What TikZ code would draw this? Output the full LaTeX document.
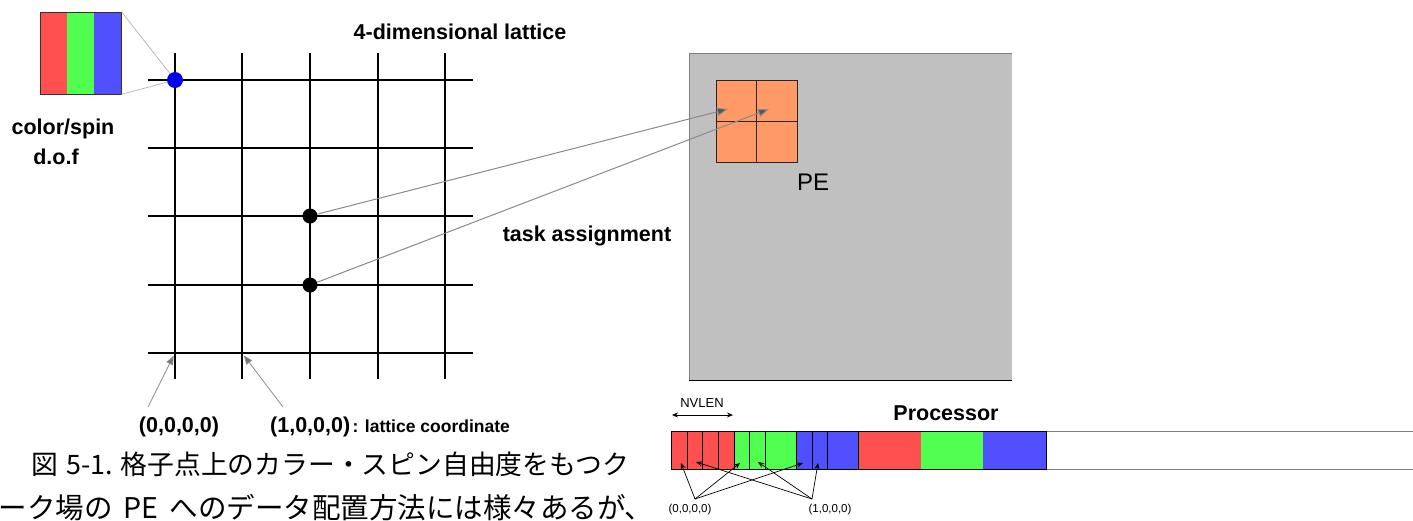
\documentclass[tikz,border=0pt]{standalone}
\usepackage{fontspec}
\setmainfont{Liberation Sans}
\newfontfamily\jpfont{Noto Sans CJK JP}
\usetikzlibrary{arrows.meta,calc}

\definecolor{cred}{HTML}{FF5050}
\definecolor{cgreen}{HTML}{50FF50}
\definecolor{cblue}{HTML}{5050FF}
\definecolor{dotblue}{HTML}{0000F0}
\definecolor{peorange}{HTML}{FF9966}
\definecolor{pegray}{HTML}{C0C0C0}
\definecolor{linkgray}{HTML}{8A8A8A}
\definecolor{headgray}{HTML}{555555}

\tikzset{
  gridline/.style={line width=2.6pt, black},
  latticedot/.style={circle, fill=black, inner sep=0pt, minimum size=15pt},
  boldlbl/.style={font=\fontsize{21.5}{24}\selectfont\bfseries, inner sep=0pt},
  smalllbl/.style={font=\fontsize{17.5}{19}\selectfont\bfseries, inner sep=0pt},
  tinylbl/.style={font=\fontsize{11.5}{13}\selectfont, inner sep=0pt},
  zoomline/.style={draw=black!30, line width=0.7pt},
  coordarrow/.style={draw=black!45, line width=0.8pt,
    -{Triangle[length=9pt,width=7pt,fill=black!55]}},
  taskarrow/.style={draw=linkgray, line width=1pt,
    -{Triangle[length=11pt,width=8pt,fill=headgray]}},
  pecell/.style={draw=black!85, line width=0.8pt, fill=peorange,
    minimum width=40.5pt, minimum height=41pt, inner sep=0pt},
  memarrow/.style={draw=black, line width=0.7pt,
    -{Stealth[length=6pt,width=5pt]}},
  jptext/.style={font=\jpfont, inner sep=0pt}
}

\begin{document}
\begin{tikzpicture}[x=1pt,y=-1pt]
\useasboundingbox (0,0) rectangle (1413,520);
\clip (0,0) rectangle (1413,520);

% ---- four-dimensional lattice ----
\foreach \x in {175,242,310,378,445}
  \draw[gridline] (\x,53) -- (\x,379);
\foreach \y in {80,148,216,285,353}
  \draw[gridline] (148,\y) -- (473,\y);

\node[latticedot, fill=dotblue, minimum size=16pt] (site) at (175,80) {};
\node[latticedot] (d1) at (310,216) {};
\node[latticedot] (d2) at (310,285) {};

\coordinate (g00) at (175,353);
\coordinate (g10) at (242,353);

\node[boldlbl] (lattitle) at (460,32) {4-dimensional lattice};

% ---- colour/spin degrees of freedom on a site ----
\fill[cred]   (40,12) rectangle (67,94);
\fill[cgreen] (67,12) rectangle (94,94);
\fill[cblue]  (94,12) rectangle (121,94);
\node[draw=black!80, line width=0.8pt, minimum width=81pt, minimum height=82pt,
      inner sep=0pt] (dof) at (80.5,53) {};
\draw[zoomline] (dof.north east) -- (site);
\draw[zoomline] (dof.south east) -- (site);

\node[boldlbl] (dofa) at (63,129) {color/spin};
\node[boldlbl] (dofb) at (56,157) {d.o.f};

% ---- lattice coordinates ----
\node[boldlbl] (c0) at (179,427) {(0,0,0,0)};
\node[boldlbl, anchor=west] (c1) at (270,427) {(1,0,0,0)};
\node[smalllbl, anchor=base west] (c1txt) at ($(c1.base east)+(2,0)$) {: lattice coordinate};
\coordinate (c0tail) at (148,407);
\coordinate (c1tail) at (283,407);
\draw[coordarrow, shorten >=3pt] (c0tail) -- (g00);
\draw[coordarrow, shorten >=3pt] (c1tail) -- (g10);

% ---- processing element ----
\fill[pegray] (689,53) rectangle (1012,380);
\draw[black!50, line width=0.8pt] (1012,53) -- (689,53) -- (689,380);
\draw[black, line width=0.9pt] (689,380) -- (1012,380);

\node[pecell] (pe11) at (736.25,100.5) {};
\node[pecell] (pe12) at (776.75,100.5) {};
\node[pecell] (pe21) at (736.25,141.5) {};
\node[pecell] (pe22) at (776.75,141.5) {};
\node[font=\fontsize{24}{26}\selectfont, inner sep=0pt] (pe) at (813,182) {PE};

\coordinate (t1) at (728,109);
\coordinate (t2) at (769,109);
\draw[taskarrow] (d1) -- (t1);
\draw[taskarrow] (d2) -- (t2);
\node[boldlbl] (task) at (587,236) {task assignment};

% ---- processor memory layout ----
\node[font=\fontsize{13}{15}\selectfont, inner sep=0pt] (nvlen) at (702,403) {NVLEN};
\coordinate (nvl) at (672,415);
\coordinate (nvr) at (733,415);
\draw[draw=black, line width=0.7pt, {Stealth[length=6pt,width=5pt]}-{Stealth[length=6pt,width=5pt]}] (nvl) -- (nvr);

\node[boldlbl] (proc) at (946,413) {Processor};

% unused tail of the register
\draw[black!50, line width=1pt, fill=white] (1046,431) rectangle (1420,469);
% long blocks
\fill[cred]   (858,431) rectangle (921,469);
\fill[cgreen] (921,431) rectangle (983,469);
\fill[cblue]  (983,431) rectangle (1046,469);
\draw[black, line width=0.8pt] (858,431) rectangle (1046,469);
% vector-length blocks
\foreach \a/\b/\c/\n in {671/687/cred/r1, 687/702/cred/r2, 702/718/cred/r3, 718/734/cred/r4,
                         734/749/cgreen/g1, 749/765/cgreen/g2, 765/796/cgreen/g3,
                         796/812/cblue/b1, 812/827/cblue/b2, 827/858/cblue/b3}
  \node[draw=black, line width=0.8pt, fill=\c, inner sep=0pt, minimum height=38pt,
        minimum width={\b-\a}] (\n) at ({(\a+\b)/2},450) {};

\node[tinylbl] (m0) at (690,510) {(0,0,0,0)};
\node[tinylbl] (m1) at (830,510) {(1,0,0,0)};
\coordinate (a0) at (695,499);
\coordinate (a1) at (812,499);
\coordinate (r1t) at (681,463);
\coordinate (g1t) at (740,463);
\coordinate (b1t) at (803,463);
\coordinate (r2t) at (696,462);
\coordinate (g2t) at (758,462);
\coordinate (b2t) at (818,463);
\draw[memarrow] (a0) -- (r1t);
\draw[memarrow] (a0) -- (g1t);
\draw[memarrow] (a0) -- (b1t);
\draw[memarrow] (a1) -- (r2t);
\draw[memarrow] (a1) -- (g2t);
\draw[memarrow] (a1) -- (b2t);

% ---- caption ----
\node[jptext, font=\jpfont\fontsize{26.8}{30}\selectfont, anchor=base east] (cap1) at (629,474)
  {図\hspace{8pt}5-1.\hspace{8pt}格子点上のカラー・スピン自由度をもつク};
\node[jptext, font=\jpfont\fontsize{28.5}{32}\selectfont, anchor=base west] (cap2) at (-30,518)
  {ォーク場の\hspace{11pt}PE\hspace{11pt}へのデータ配置方法には様々あるが、};
\end{tikzpicture}
\end{document}
